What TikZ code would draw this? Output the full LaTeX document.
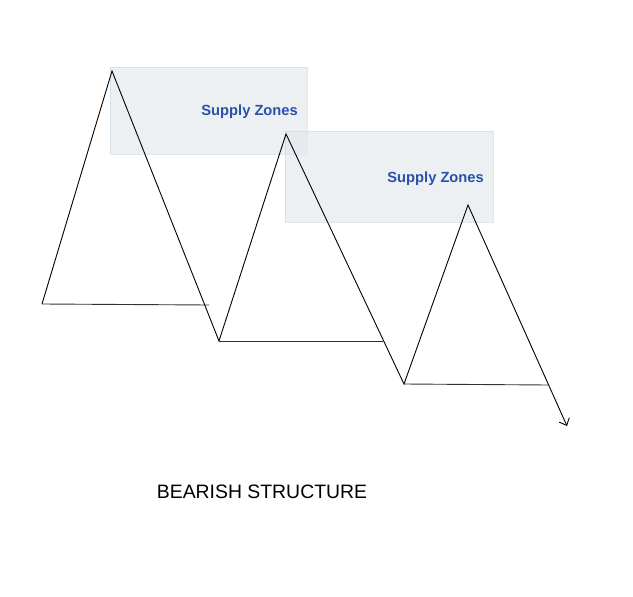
\documentclass[tikz,border=0pt]{standalone}
\usepackage{fontspec}
\setmainfont{Liberation Sans}
\usetikzlibrary{arrows.meta}
\definecolor{zonefill}{HTML}{E2E8EE}
\definecolor{zoneline}{HTML}{C9D8E8}
\definecolor{zonetext}{HTML}{2B4FAA}
\tikzset{
  zone/.style={fill=zonefill, fill opacity=0.65, draw=zoneline, draw opacity=0.6, line width=0.6pt},
  zonelabel/.style={text=zonetext, font=\bfseries\fontsize{14.7}{16}\selectfont, anchor=base east, inner sep=0pt},
  leg/.style={line width=0.9pt, black},
  base/.style={line width=0.9pt, black!80},
}
\begin{document}
\begin{tikzpicture}[x=1pt,y=-1pt]
\useasboundingbox (0,0) rectangle (633,597);
\fill[white] (0,0) rectangle (633,597);
% zones
\draw[zone] (110,67) rectangle (307,154);
\draw[zone] (285,131) rectangle (493,222);
\node[zonelabel] (z1) at (298,115.5) {Supply Zones};
\node[zonelabel] (z2) at (484,182.5) {Supply Zones};
% swing points
\coordinate (a) at (42,304);
\coordinate (b) at (112,71);
\coordinate (c) at (219,341);
\coordinate (d) at (286,134);
\coordinate (e) at (404,384);
\coordinate (f) at (468,205);
\coordinate (g) at (567,426);
\coordinate (h1) at (209,305);
\coordinate (h2) at (383,341);
\coordinate (h3) at (548,385);
% lows
\draw[base] (a) -- (h1);
\draw[base] (c) -- (h2);
\draw[base] (e) -- (h3);
% zigzag
\draw[leg, line join=miter, -{Straight Barb[length=6pt,width=11pt]}] (a) -- (b) -- (c) -- (d) -- (e) -- (f) -- (g);
\node[font=\fontsize{19.4}{23}\selectfont] (title) at (262,492) {BEARISH STRUCTURE};
\end{tikzpicture}
\end{document}
